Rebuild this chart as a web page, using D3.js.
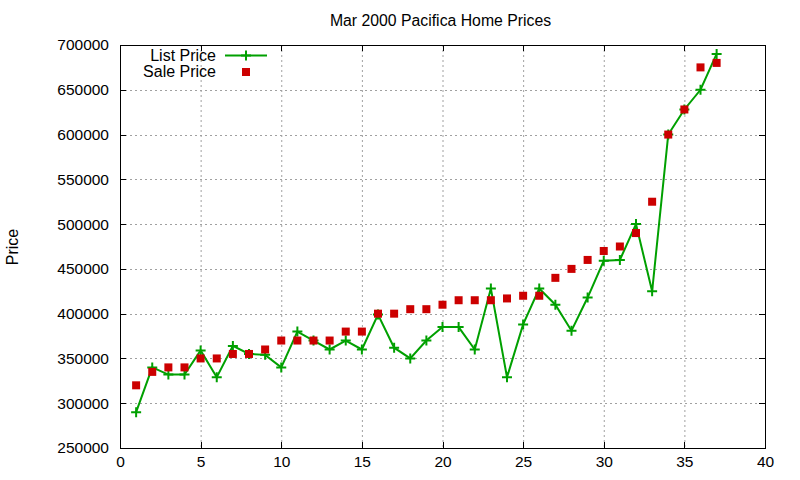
<!DOCTYPE html>
<html><head><meta charset="utf-8">
<script src="https://cdn.jsdelivr.net/npm/d3@7"></script>
<style>body{margin:0;background:#fff}svg{display:block}text{font-family:"Liberation Sans",Arial,sans-serif}</style>
</head><body><svg id="c" width="800" height="480"></svg>
<script>
const index = d3.range(1, 38);
const listPrice = [290000,340000,332000,332000,359000,329000,364000,355000,354000,340000,
  380000,370000,360000,370000,360000,399000,362000,350000,370000,385000,
  385000,360000,428000,329000,388000,428000,410000,381000,418000,459000,
  460000,500000,425000,600000,628000,650000,690000];
const salePrice = [320000,335000,340000,340000,350000,350000,355000,355000,360000,370000,
  370000,370000,370000,380000,380000,400000,400000,405000,405000,410000,
  415000,415000,415000,417000,420000,420000,440000,450000,460000,470000,
  475000,490000,525000,600000,628000,675000,680000];
const xTicks = [0,5,10,15,20,25,30,35,40];
const yTicks = [250000,300000,350000,400000,450000,500000,550000,600000,650000,700000];

const svg = d3.select("#c");
const L=120,R=765,T=45,B=448;
const x = d3.scaleLinear().domain([0,40]).range([L,R]);
const y = d3.scaleLinear().domain([250000,700000]).range([B,T]);

// grid
const g = svg.append("g");
g.selectAll(".gx").data(xTicks.slice(1,-1)).join("line")
  .attr("x1",d=>x(d)+0.5).attr("x2",d=>x(d)+0.5).attr("y1",T).attr("y2",B)
  .attr("stroke","#a0a0a0").attr("stroke-dasharray","2,3");
g.selectAll(".gy").data(yTicks.slice(1,-1)).join("line")
  .attr("y1",d=>Math.round(y(d))+0.5).attr("y2",d=>Math.round(y(d))+0.5).attr("x1",L).attr("x2",R)
  .attr("stroke","#a0a0a0").attr("stroke-dasharray","2,3");

// axes
const fs = 15.5;
const ax = d3.axisBottom(x).tickValues(xTicks).tickSize(0).tickPadding(8);
svg.append("g").attr("transform",`translate(0,${B})`).call(ax)
  .call(s=>s.select(".domain").remove())
  .selectAll("text").attr("font-size",fs).attr("fill","#000").attr("font-family","Liberation Sans, Arial");
const ay = d3.axisLeft(y).tickValues(yTicks).tickSize(0).tickPadding(11).tickFormat(d3.format("d"));
svg.append("g").attr("transform",`translate(${L},0)`).call(ay)
  .call(s=>s.select(".domain").remove())
  .selectAll("text").attr("font-size",fs).attr("fill","#000").attr("font-family","Liberation Sans, Arial");

// tick marks inward, mirrored
const tk = svg.append("g").attr("stroke","#000");
xTicks.forEach(d=>{
  const px=Math.round(x(d))+0.5;
  tk.append("line").attr("x1",px).attr("x2",px).attr("y1",B).attr("y2",B-6);
  tk.append("line").attr("x1",px).attr("x2",px).attr("y1",T).attr("y2",T+6);
});
yTicks.forEach(d=>{
  const py=Math.round(y(d))+0.5;
  tk.append("line").attr("x1",L).attr("x2",L+6).attr("y1",py).attr("y2",py);
  tk.append("line").attr("x1",R).attr("x2",R-6).attr("y1",py).attr("y2",py);
});
svg.append("rect").attr("x",L+0.5).attr("y",T+0.5).attr("width",R-L).attr("height",B-T)
  .attr("fill","none").attr("stroke","#000");

// title & label
svg.append("text").attr("x",440.5).attr("y",26).attr("text-anchor","middle").attr("font-size",15.8).text("Mar 2000 Pacifica Home Prices");
svg.append("text").attr("transform","translate(18,247) rotate(-90)").attr("text-anchor","middle").attr("font-size",16).text("Price");

// list price line
const green="#00a000", red="#cc0000";
const line = d3.line().x((d,i)=>x(index[i])).y(d=>y(d));
svg.append("path").datum(listPrice).attr("d",line).attr("fill","none").attr("stroke",green).attr("stroke-width",2);
const plus = (sel)=>sel.append("path").attr("d","M-5,0H5M0,-5V5").attr("stroke",green).attr("stroke-width",2);
listPrice.forEach((v,i)=>{
  plus(svg.append("g").attr("transform",`translate(${x(index[i])},${y(v)})`));
});
// sale price squares
svg.selectAll(".sq").data(salePrice).join("rect")
  .attr("x",(d,i)=>x(index[i])-4).attr("y",d=>y(d)-4).attr("width",8).attr("height",8).attr("fill",red);

// legend
svg.append("text").attr("x",216).attr("y",61).attr("text-anchor","end").attr("font-size",16).text("List Price");
svg.append("line").attr("x1",225).attr("x2",267).attr("y1",55.5).attr("y2",55.5).attr("stroke",green).attr("stroke-width",2);
plus(svg.append("g").attr("transform","translate(246,55.5)"));
svg.append("text").attr("x",216).attr("y",77).attr("text-anchor","end").attr("font-size",16).text("Sale Price");
svg.append("rect").attr("x",242).attr("y",68).attr("width",8).attr("height",8).attr("fill",red);
</script></body></html>
